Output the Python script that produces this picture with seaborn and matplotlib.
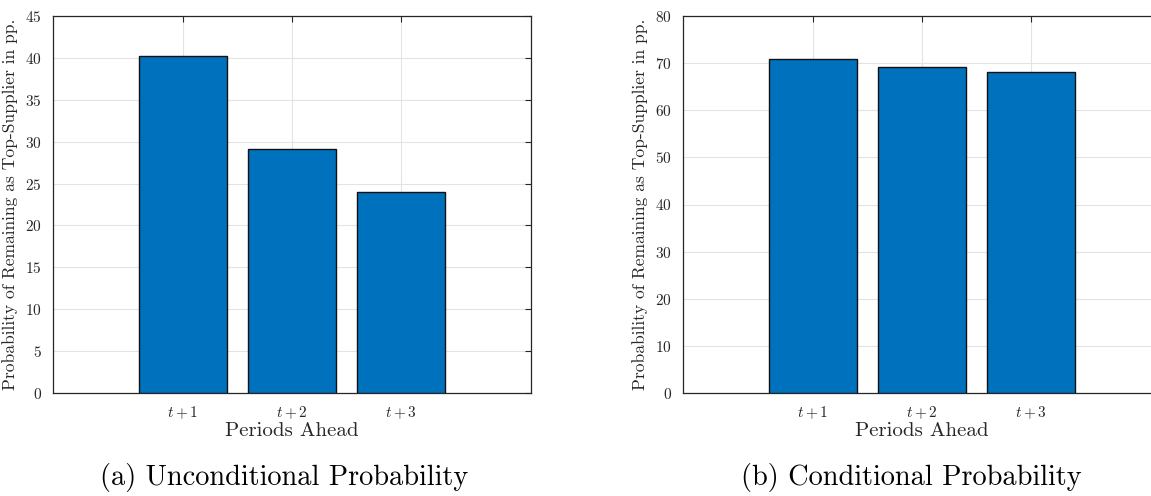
import matplotlib
matplotlib.use("Agg")
import matplotlib.pyplot as plt
import seaborn as sns
import pandas as pd

periods = ["$t+1$", "$t+2$", "$t+3$"]
uncond = [40.2, 29.1, 24.0]
cond = [70.8, 69.2, 68.2]
captions = ["(a) Unconditional Probability", "(b) Conditional Probability"]
ylims = [(0, 45), (0, 80)]
yticks = [list(range(0, 46, 5)), list(range(0, 81, 10))]

sns.set_theme(style="white")
plt.rcParams["font.family"] = ["cmr10", "DejaVu Serif"]
plt.rcParams["mathtext.fontset"] = "cm"
plt.rcParams["axes.formatter.use_mathtext"] = True

fig = plt.figure(figsize=(11.51, 4.96), dpi=100)
axpos = [[53/1151, 103/496, 478/1151, 377/496],
         [683/1151, 103/496, 478/1151, 377/496]]
capx = [284/1151, 911/1151]
tc = "#262626"
for i, vals in enumerate([uncond, cond]):
    ax = fig.add_axes(axpos[i])
    df = pd.DataFrame({"period": periods, "value": vals})
    sns.barplot(data=df, x="period", y="value", ax=ax, color="#0072BD",
                saturation=1, width=0.8, edgecolor="#111111", linewidth=1.0, zorder=3)
    ax.set_xlim(-1.19, 3.19)
    ax.set_ylim(*ylims[i])
    ax.set_yticks(yticks[i])
    ax.grid(True, color="#e3e3e3", linewidth=0.8, zorder=0)
    ax.set_axisbelow(True)
    ax.tick_params(direction="in", top=True, right=(i == 0), length=4, width=0.8,
                   color=tc, labelcolor=tc, labelsize=11, pad=8)
    for s in ax.spines.values():
        s.set_color(tc)
        s.set_linewidth(0.9)
    if i == 1:
        ax.spines["right"].set_visible(False)
    ax.set_xlabel("Periods Ahead", fontsize=15, color=tc, labelpad=1)
    ax.set_ylabel("Probability of Remaining as Top-Supplier in pp.", fontsize=12.6,
                  color=tc, labelpad=5)
    fig.text(capx[i], 1 - 477/496, captions[i], ha="center", va="center",
             fontsize=20.4, color="black")

fig.savefig("out.png", dpi=100)
